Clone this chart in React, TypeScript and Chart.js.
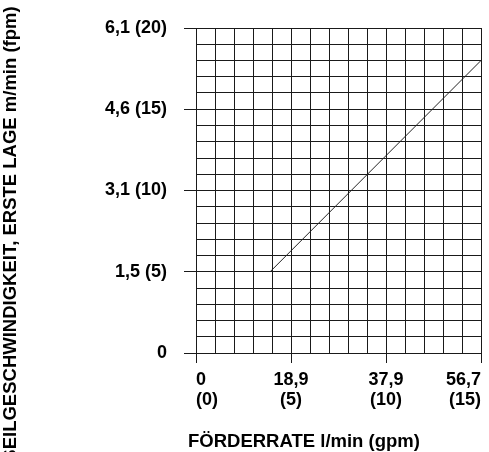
import { useEffect, useRef } from "react";
import { Chart, registerables } from "chart.js";

Chart.register(...registerables);

// ---- data ----
const flowGpm = [3.9, 15];
const speedFpm = [5, 18];

const xTickValues = [0, 5, 10, 15];
const xTickLabels = [
  ["0", "(0)"],
  ["18,9", "(5)"],
  ["37,9", "(10)"],
  ["56,7", "(15)"],
];
const yTickValues = [0, 5, 10, 15, 20];
const yTickLabels = ["0", "1,5 (5)", "3,1 (10)", "4,6 (15)", "6,1 (20)"];

const xTitle = "FÖRDERRATE l/min (gpm)";
const yTitle = "SEILGESCHWINDIGKEIT, ERSTE LAGE m/min (fpm)";

const X_MAX = 15;
const Y_MAX = 20;

const FONT = "'Liberation Sans', Arial, sans-serif";
const INK = "#000";
const GRID = "#1a1a1a";

const axisTitlePlugin = {
  id: "axisTitles",
  afterDraw(chart: any) {
    const { ctx } = chart;
    ctx.save();
    ctx.fillStyle = INK;
    ctx.font = `bold 18.5px ${FONT}`;
    ctx.textAlign = "left";
    ctx.textBaseline = "alphabetic";
    ctx.fillText(xTitle, 188, 447);
    ctx.translate(11, 234);
    ctx.rotate(-Math.PI / 2);
    ctx.textAlign = "center";
    ctx.textBaseline = "middle";
    ctx.fillText(yTitle, 0, 0);
    ctx.restore();
  },
};

export default function App() {
  const ref = useRef<HTMLCanvasElement | null>(null);

  useEffect(() => {
    if (!ref.current) return;
    const points = flowGpm.map((x, i) => ({ x, y: speedFpm[i] }));
    const chart = new Chart(ref.current, {
      type: "line",
      data: {
        datasets: [
          {
            data: points,
            borderColor: "#222",
            borderWidth: 1,
            pointRadius: 0,
            fill: false,
          },
        ],
      },
      options: {
        animation: false,
        responsive: false,
        layout: { padding: { left: 0, top: 28, right: 8, bottom: 0 } },
        plugins: { legend: { display: false }, tooltip: { enabled: false } },
        scales: {
          x: {
            type: "linear",
            min: 0,
            max: X_MAX,
            afterFit(scale: any) {
              scale.height = 99;
              scale.paddingLeft = 0;
              scale.paddingRight = 0;
            },
            grid: {
              color: GRID,
              lineWidth: 1,
              tickLength: 10,
              tickColor: (c: any) =>
                xTickValues.includes(c.tick?.value) ? GRID : "rgba(0,0,0,0)",
            },
            border: { display: true, color: GRID, width: 1 },
            ticks: {
              stepSize: 1,
              autoSkip: false,
              maxRotation: 0,
              minRotation: 0,
              align: "inner",
              padding: 7,
              color: INK,
              font: { family: FONT, size: 18, weight: "bold", lineHeight: 1.1 },
              callback: (v: any) => {
                const i = xTickValues.indexOf(Number(v));
                return i >= 0 ? xTickLabels[i] : "";
              },
            },
          },
          y: {
            type: "linear",
            min: 0,
            max: Y_MAX,
            afterFit(scale: any) {
              scale.width = 196;
            },
            grid: {
              color: GRID,
              lineWidth: 1,
              tickLength: 12,
              tickColor: (c: any) =>
                yTickValues.includes(c.tick?.value) ? GRID : "rgba(0,0,0,0)",
            },
            border: { display: true, color: GRID, width: 1 },
            ticks: {
              stepSize: 1,
              autoSkip: false,
              padding: 17,
              color: INK,
              font: { family: FONT, size: 18, weight: "bold" },
              callback: (v: any) => {
                const i = yTickValues.indexOf(Number(v));
                return i >= 0 ? yTickLabels[i] : "";
              },
            },
          },
        },
      },
      plugins: [axisTitlePlugin],
    });
    return () => chart.destroy();
  }, []);

  return (
    <div style={{ position: "fixed", left: 0, top: 0, width: 489, height: 452, background: "#fff" }}>
      <canvas ref={ref} width={489} height={452} />
    </div>
  );
}
